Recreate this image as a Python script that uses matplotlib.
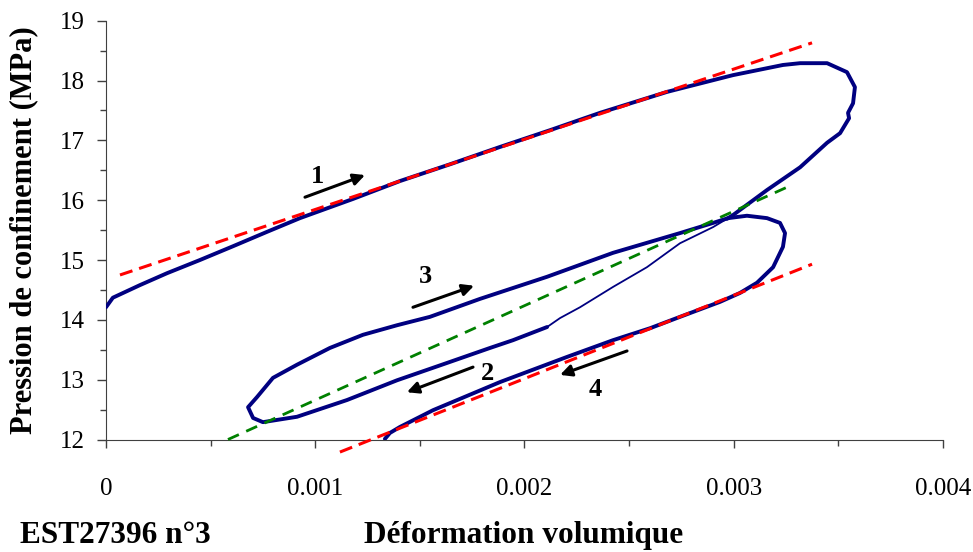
import matplotlib
matplotlib.use("Agg")
from matplotlib import pyplot as plt
from matplotlib.ticker import MultipleLocator

plt.rcParams['font.family'] = ['Liberation Serif', 'DejaVu Serif']

# volumetric strain (-) and confining pressure (MPa)
# loading (1) up to the peak, then back down to the crossing point
x_load = [0.0, 0.000033, 0.000162, 0.000292, 0.000449, 0.000607, 0.000769, 0.000927,
          0.00118, 0.001405, 0.001644, 0.001883, 0.002122, 0.002361, 0.002681, 0.002996,
          0.003235, 0.003317, 0.003446, 0.003541, 0.003579, 0.00357, 0.003546, 0.003551,
          0.003508, 0.003446, 0.003317, 0.003159, 0.002996, 0.002968]
y_load = [14.21, 14.37, 14.58, 14.78, 15.00, 15.23, 15.47, 15.70,
          16.02, 16.32, 16.60, 16.89, 17.17, 17.46, 17.81, 18.09,
          18.26, 18.29, 18.29, 18.14, 17.89, 17.62, 17.46, 17.37,
          17.12, 16.96, 16.55, 16.17, 15.75, 15.69]

# unloading (2), sparse part of the record (thin line)
x_thin = [0.002968, 0.002901, 0.002743, 0.002585, 0.002423, 0.002265, 0.00217, 0.002108]
y_thin = [15.69, 15.55, 15.28, 14.88, 14.55, 14.21, 14.03, 13.88]

# rest of unloading (2), reloading (3), small loop and unloading (4)
x_rest = [0.002108, 0.001945, 0.001835, 0.00163, 0.001391, 0.001152, 0.000913, 0.00075,
          0.000703, 0.000679, 0.000722, 0.000798, 0.000913, 0.00107, 0.001228, 0.001391,
          0.001548, 0.001787, 0.002108, 0.002423, 0.002743, 0.002901, 0.002973, 0.003063,
          0.003159, 0.003221, 0.003245, 0.003235, 0.003188, 0.003111, 0.00303, 0.002934,
          0.002743, 0.0026, 0.002423, 0.002203, 0.001883, 0.001563, 0.001405, 0.001357,
          0.001333]
y_rest = [13.88, 13.66, 13.53, 13.28, 12.99, 12.66, 12.38, 12.29,
          12.36, 12.54, 12.71, 13.03, 13.25, 13.53, 13.75, 13.91,
          14.05, 14.35, 14.72, 15.12, 15.45, 15.62, 15.70, 15.74,
          15.70, 15.62, 15.45, 15.22, 14.88, 14.62, 14.45, 14.30,
          14.05, 13.86, 13.66, 13.38, 12.96, 12.49, 12.21, 12.11,
          12.01]

# fitted lines
red_up_x = [0.000067, 0.003374]
red_up_y = [14.75, 18.63]
red_lo_x = [0.001118, 0.003374]
red_lo_y = [11.79, 14.93]
green_x = [0.000583, 0.003269]
green_y = [12.0, 16.24]

# arrows: label, tail, head, label position
arrows = [
    ("1", (0.000951, 16.05), (0.001238, 16.42), (0.001013, 16.40)),
    ("3", (0.001467, 14.21), (0.001759, 14.57), (0.001529, 14.72)),
    ("2", (0.001754, 13.21), (0.001438, 12.79), (0.001821, 13.11)),
    ("4", (0.002490, 13.48), (0.002170, 13.08), (0.002337, 12.84)),
]

fig = plt.figure(figsize=(9.73, 5.52), dpi=100)
ax = fig.add_axes([0.1089, 0.2038, 0.8603, 0.7587])

navy = "#000080"
ax.plot(x_load, y_load, color=navy, lw=2.8, solid_capstyle="round", zorder=3)
ax.plot(x_thin, y_thin, color=navy, lw=1.3, zorder=3)
ax.plot(x_rest, y_rest, color=navy, lw=2.8, solid_capstyle="round", zorder=3)

ax.plot(red_up_x, red_up_y, color="#FF0000", lw=2.2, dashes=(4.3, 2.3), zorder=4, clip_on=False)
ax.plot(red_lo_x, red_lo_y, color="#FF0000", lw=2.2, dashes=(4.3, 2.3), zorder=4, clip_on=False)
ax.plot(green_x, green_y, color="#008000", lw=2.0, dashes=(4.3, 2.9), zorder=4, clip_on=False)

for lab, tail, head, pos in arrows:
    ax.annotate("", xy=head, xytext=tail,
                arrowprops=dict(arrowstyle="-|>", color="black", lw=2.2, mutation_scale=17,
                                shrinkA=0, shrinkB=0))
    ax.text(pos[0], pos[1], lab, fontsize=19, fontweight="bold", ha="center", va="center")

ax.set_xlim(0, 0.004)
ax.set_ylim(12, 19)
for s in ["top", "right"]:
    ax.spines[s].set_visible(False)
ax.spines["left"].set_color("#404040")
ax.spines["bottom"].set_color("#404040")

ax.xaxis.set_major_locator(MultipleLocator(0.001))
ax.xaxis.set_minor_locator(MultipleLocator(0.0005))
ax.yaxis.set_major_locator(MultipleLocator(1))
ax.yaxis.set_minor_locator(MultipleLocator(0.5))
ax.set_xticks([0, 0.001, 0.002, 0.003, 0.004])
ax.set_xticklabels(["0", "0.001", "0.002", "0.003", "0.004"])

ax.tick_params(axis="x", which="major", direction="out", length=6, width=1, colors="#404040",
               labelcolor="black", labelsize=18, pad=22)
ax.tick_params(axis="x", which="minor", direction="out", length=4, width=1, colors="#404040")
ax.tick_params(axis="y", which="major", direction="out", length=6.5, width=1, colors="#404040",
               labelcolor="black", labelsize=18, pad=9)
ax.tick_params(axis="y", which="minor", direction="out", length=4, width=1, colors="#404040")

ax.set_ylabel("Pression de confinement (MPa)", fontsize=22, fontweight="bold")
ax.yaxis.set_label_coords(-0.081, 0.5)

fig.text(0.538, 0.016, "Déformation volumique", fontsize=22.5, fontweight="bold",
         ha="center", va="baseline")
fig.text(0.0205, 0.016, "EST27396 n°3", fontsize=22.5, fontweight="bold", ha="left", va="baseline")

plt.savefig("out.png", dpi=100)
plt.close()
